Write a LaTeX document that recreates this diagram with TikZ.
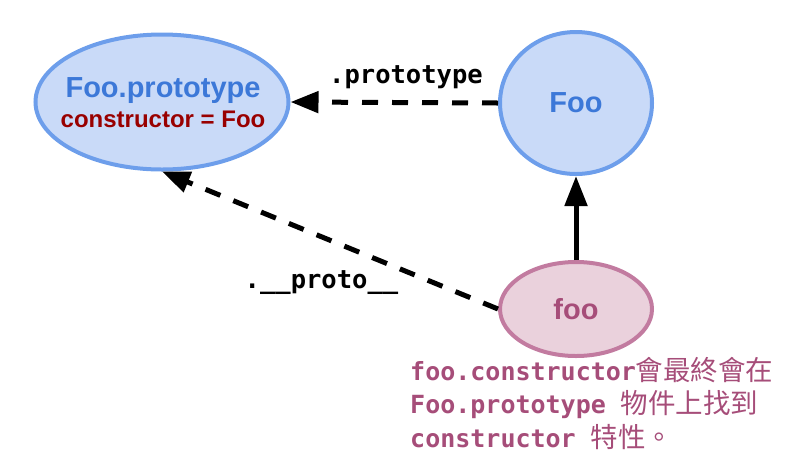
\documentclass[tikz,border=0pt]{standalone}
\usepackage{fontspec}
\setmainfont{Liberation Sans}
\setmonofont{DejaVu Sans Mono}
\newfontfamily\cjk{Noto Sans CJK TC}
\usetikzlibrary{shapes.geometric,arrows.meta}
\definecolor{bfill}{HTML}{C9DAF8}
\definecolor{bdraw}{HTML}{6D9EEB}
\definecolor{btext}{HTML}{3C78D8}
\definecolor{dred}{HTML}{990000}
\definecolor{pfill}{HTML}{EAD1DC}
\definecolor{pdraw}{HTML}{C27BA0}
\definecolor{ptext}{HTML}{A64D79}
\newcommand{\cjkpart}[1]{{\cjk\mdseries\fontsize{27.5}{30}\selectfont #1}}
\begin{document}
\begin{tikzpicture}[x=1pt,y=-1pt,
  bluenode/.style={ellipse, fill=bfill, draw=bdraw, line width=4pt, inner sep=0pt},
  pinknode/.style={ellipse, fill=pfill, draw=pdraw, line width=4pt, inner sep=0pt},
  sanslabel/.style={font=\bfseries\fontsize{29}{30}\selectfont},
  codelabel/.style={font=\bfseries\ttfamily\fontsize{25.5}{30}\selectfont, inner sep=0pt},
  notetext/.style={font=\bfseries\fontsize{25}{30}\selectfont, text=ptext, inner sep=0pt, anchor=base west},
  dasharrow/.style={line width=5pt, dash pattern=on 16pt off 14pt, -{Triangle[length=28pt,width=21pt]}},
  solidarrow/.style={line width=5pt, -{Triangle[length=30pt,width=22pt]}}
]
\useasboundingbox (0,0) rectangle (793,475);
\node[bluenode, minimum width=253pt, minimum height=135pt] (fp) at (162,102) {};
\node[sanslabel, text=btext, anchor=base] (fpa) at (163,97) {Foo.prototype};
\node[font=\bfseries\fontsize{24}{28}\selectfont, text=dred, anchor=base] (fpb) at (163,127) {constructor = Foo};
\node[bluenode, minimum width=152pt, minimum height=142pt, sanslabel, text=btext] (F) at (576,103) {Foo};
\node[pinknode, minimum width=152pt, minimum height=94pt, sanslabel, text=ptext] (f) at (576,309) {foo};
\draw[dasharrow] (F.west) -- (fp.east);
\draw[dasharrow] (f.west) -- (fp.south);
\draw[solidarrow] (f.north) -- (F.south);
\node[codelabel, anchor=base] (lp) at (406,83) {.prototype};
\node[codelabel, anchor=base] (lq) at (321.5,288) {.\_\_proto\_\_};
\node[notetext] (t1) at (410,380) {\ttfamily foo.constructor\cjkpart{會最終會在}};
\node[notetext] (t2) at (410,413.5) {\ttfamily Foo.prototype \cjkpart{物件上找到}};
\node[notetext] (t3) at (410,447) {\ttfamily constructor \cjkpart{特性。}};
\end{tikzpicture}
\end{document}
